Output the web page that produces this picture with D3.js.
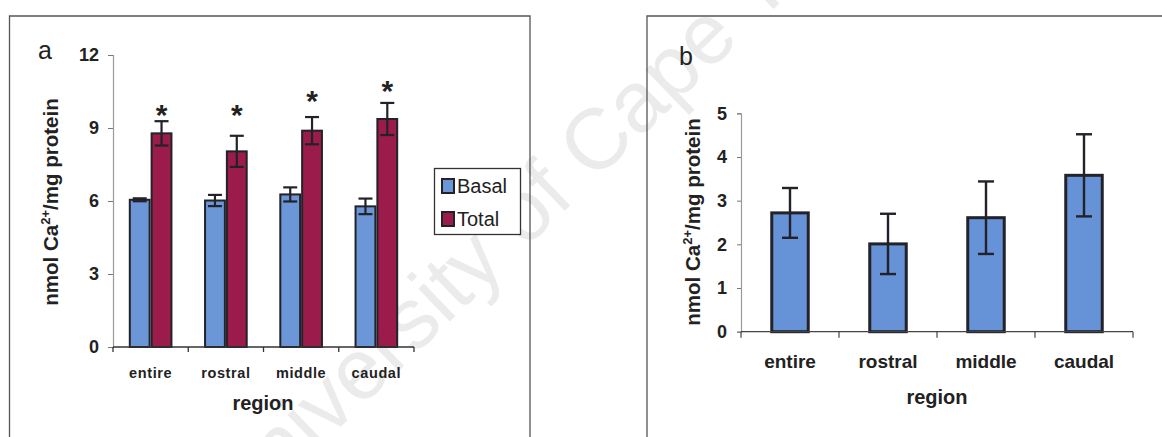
<!DOCTYPE html>
<html>
<head>
<meta charset="utf-8">
<script src="https://cdn.jsdelivr.net/npm/d3@7"></script>
<style>
  html, body { margin: 0; padding: 0; background: #fff; }
  svg { display: block; font-family: "Liberation Sans", Arial, sans-serif; }
</style>
</head>
<body>
<svg id="chart" width="1162" height="437"></svg>
<script>
// ---------- data ----------
const regions = ["entire", "rostral", "middle", "caudal"];
const seriesA = ["Basal", "Total"];
const basalValues = [6.05, 6.02, 6.27, 5.78];
const basalErrors = [0.06, 0.23, 0.29, 0.32];
const totalValues = [8.78, 8.04, 8.89, 9.37];
const totalErrors = [0.50, 0.64, 0.56, 0.66];
const starLevels = [9.8, 9.8, 10.35, 10.75];
const ticksA = [0, 3, 6, 9, 12];

const diffValues = [2.72, 2.01, 2.61, 3.58];
const diffErrors = [0.57, 0.69, 0.83, 0.94];
const ticksB = [0, 1, 2, 3, 4, 5];

const colors = { Basal: "#6b96d8", Total: "#9b1c4a" };
const barB = "#6692d8";
const dark = "#222228";

const svg = d3.select("#chart");

// ---------- watermark ----------
svg.append("text")
  .attr("transform", "translate(236,528) rotate(-44)")
  .attr("font-family", "Liberation Sans, Arial, sans-serif")
  .attr("font-size", 86)
  .attr("fill", "#ebebeb")
  .text("University of Cape Town");

// ---------- frames ----------
const frame = svg.append("g").attr("fill", "none").attr("stroke", "#555").attr("stroke-width", 1.3);
frame.append("path").attr("d", "M9.5,437 V16 H530 V437");
frame.append("path").attr("d", "M647,437 V16 H1162");

// ---------- helpers ----------
function yLabel(g, x, y) {
  const t = g.append("text")
    .attr("transform", `translate(${x},${y}) rotate(-90)`)
    .attr("text-anchor", "middle")
    .attr("font-weight", "bold")
    .attr("font-size", 20.5)
    .attr("fill", "#222");
  t.append("tspan").text("nmol Ca");
  t.append("tspan").attr("font-size", 13).attr("dy", -8).text("2+");
  t.append("tspan").attr("dy", 8).text("/mg protein");
}

function errBar(g, x, yLo, yHi, cap, w) {
  g.append("line").attr("x1", x).attr("x2", x).attr("y1", yLo).attr("y2", yHi)
    .attr("stroke", dark).attr("stroke-width", w);
  [yLo, yHi].forEach(yy => g.append("line")
    .attr("x1", x - cap / 2).attr("x2", x + cap / 2).attr("y1", yy).attr("y2", yy)
    .attr("stroke", dark).attr("stroke-width", w));
}

function styleYAxis(ya) {
  ya.select(".domain").attr("stroke", "#9a9a9a").attr("stroke-width", 1.2);
  ya.selectAll(".tick line").attr("stroke", "#777");
  ya.selectAll(".tick text").attr("font-size", 18).attr("font-weight", "bold")
    .attr("fill", "#222").attr("font-family", "Liberation Sans, Arial, sans-serif");
}

// ---------- panel a ----------
(function () {
  const g = svg.append("g");
  const x0 = d3.scaleBand().domain(regions).range([113, 414]).paddingInner(0.42).paddingOuter(0.21);
  const x1 = d3.scaleBand().domain(seriesA).range([0, x0.bandwidth()]);
  const y = d3.scaleLinear().domain([0, 12]).range([347, 55]);

  const ya = g.append("g").attr("transform", "translate(113,0)")
    .call(d3.axisLeft(y).tickValues(ticksA).tickFormat(d3.format("d")).tickSize(5).tickPadding(9));
  styleYAxis(ya);

  regions.forEach((r, i) => {
    const vals = { Basal: [basalValues[i], basalErrors[i]], Total: [totalValues[i], totalErrors[i]] };
    seriesA.forEach(s => {
      const bx = x0(r) + x1(s);
      const v = vals[s][0];
      g.append("rect")
        .attr("x", bx + 1).attr("width", x1.bandwidth() - 2)
        .attr("y", y(v)).attr("height", y(0) - y(v))
        .attr("fill", colors[s]).attr("stroke", dark).attr("stroke-width", 2);
    });
    seriesA.forEach(s => {
      const cx = x0(r) + x1(s) + x1.bandwidth() / 2;
      const v = vals[s][0], e = vals[s][1];
      errBar(g, cx, y(v - e), y(v + e), 14, 2.2);
    });
    g.append("text")
      .attr("x", x0(r) + x1("Total") + x1.bandwidth() / 2)
      .attr("y", y(starLevels[i]) + 16)
      .attr("text-anchor", "middle")
      .attr("font-size", 30).attr("font-weight", "bold").attr("fill", "#222")
      .text("*");
  });

  const [r0, r1] = x0.range();
  g.append("line").attr("x1", r0).attr("x2", r1).attr("y1", y(0)).attr("y2", y(0))
    .attr("stroke", "#333").attr("stroke-width", 1.3);
  d3.range(regions.length + 1).forEach(k => {
    const tx = r0 + k * x0.step();
    g.append("line").attr("x1", tx).attr("x2", tx).attr("y1", y(0)).attr("y2", y(0) + 5)
      .attr("stroke", "#333").attr("stroke-width", 1.3);
  });
  regions.forEach(r => g.append("text")
    .attr("x", x0(r) + x0.bandwidth() / 2).attr("y", 378)
    .attr("text-anchor", "middle").attr("font-size", 14.5).attr("font-weight", "bold")
    .attr("letter-spacing", 0.6).attr("fill", "#222").text(r));

  g.append("text").attr("x", 263).attr("y", 410).attr("text-anchor", "middle")
    .attr("font-size", 20).attr("font-weight", "bold").attr("fill", "#222").text("region");

  yLabel(g, 58, 202);

  g.append("text").attr("x", 45).attr("y", 59).attr("text-anchor", "middle")
    .attr("font-size", 25).attr("fill", "#222").text("a");

  const lg = g.append("g");
  lg.append("rect").attr("x", 434.5).attr("y", 168.5).attr("width", 86).attr("height", 66)
    .attr("fill", "#fff").attr("stroke", "#333").attr("stroke-width", 1.3);
  seriesA.forEach((s, k) => {
    const cy = 186 + k * 33;
    lg.append("rect").attr("x", 442).attr("y", cy - 7).attr("width", 12).attr("height", 14)
      .attr("fill", colors[s]).attr("stroke", dark).attr("stroke-width", 2);
    lg.append("text").attr("x", 457).attr("y", cy + 7).attr("font-size", 20)
      .attr("fill", "#222").text(s);
  });
})();

// ---------- panel b ----------
(function () {
  const g = svg.append("g");
  const x = d3.scaleBand().domain(regions).range([741, 1133]).paddingInner(0.597).paddingOuter(0.2985);
  const y = d3.scaleLinear().domain([0, 5]).range([331.7, 113.3]);

  const ya = g.append("g").attr("transform", "translate(741,0)")
    .call(d3.axisLeft(y).tickValues(ticksB).tickFormat(d3.format("d")).tickSize(4).tickPadding(10));
  styleYAxis(ya);

  regions.forEach((r, i) => {
    const v = diffValues[i], e = diffErrors[i];
    g.append("rect")
      .attr("x", x(r) + 1.5).attr("width", x.bandwidth() - 3)
      .attr("y", y(v)).attr("height", y(0) - y(v))
      .attr("fill", barB).attr("stroke", dark).attr("stroke-width", 3);
    errBar(g, x(r) + x.bandwidth() / 2, y(v - e), y(v + e), 16, 2.4);
  });

  const [r0, r1] = x.range();
  g.append("line").attr("x1", r0).attr("x2", r1).attr("y1", y(0)).attr("y2", y(0))
    .attr("stroke", "#444").attr("stroke-width", 1.2);
  d3.range(regions.length + 1).forEach(k => {
    const tx = r0 + k * x.step();
    g.append("line").attr("x1", tx).attr("x2", tx).attr("y1", y(0)).attr("y2", y(0) + 6)
      .attr("stroke", "#444").attr("stroke-width", 1.2);
  });
  regions.forEach(r => g.append("text")
    .attr("x", x(r) + x.bandwidth() / 2).attr("y", 368)
    .attr("text-anchor", "middle").attr("font-size", 19).attr("font-weight", "bold")
    .attr("fill", "#222").text(r));

  g.append("text").attr("x", 937).attr("y", 404).attr("text-anchor", "middle")
    .attr("font-size", 20).attr("font-weight", "bold").attr("fill", "#222").text("region");

  yLabel(g, 700, 222);

  g.append("text").attr("x", 686).attr("y", 65).attr("text-anchor", "middle")
    .attr("font-size", 25).attr("fill", "#222").text("b");
})();
</script>
</body>
</html>
